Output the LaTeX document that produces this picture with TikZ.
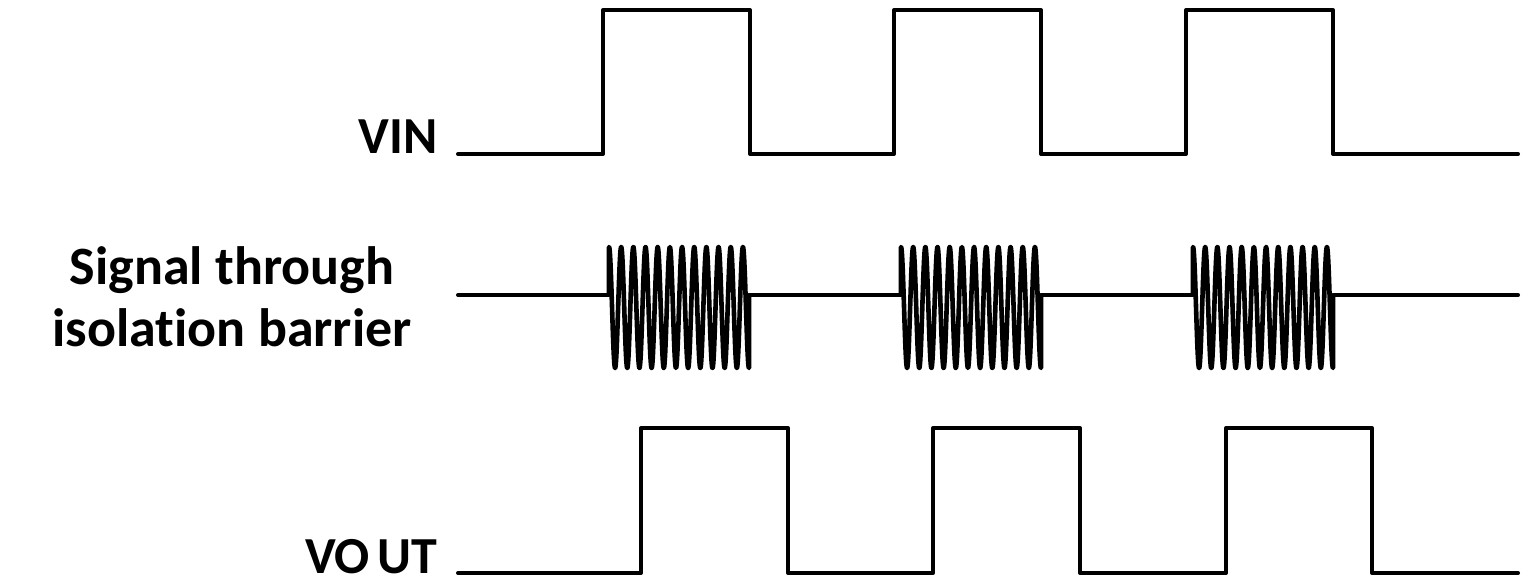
\documentclass[tikz,border=0pt]{standalone}
\usepackage{fontspec}
\setmainfont{Carlito}[Ligatures=NoCommon]
\begin{document}
\begin{tikzpicture}[x=0.5pt,y=-0.5pt,
  wave/.style={line width=2pt,line join=round,line cap=round},
  burst/.style={line width=2.3pt,line join=round},
  lbl/.style={font=\fontsize{26}{30}\selectfont\bfseries,inner sep=0pt},
  biglbl/.style={font=\fontsize{27}{31}\selectfont\bfseries,inner sep=0pt}]
\useasboundingbox (0,0) rectangle (1525,587);
% labels
\node[lbl,anchor=base east] (vin) at (438,154) {VIN};
\node[biglbl,align=center,anchor=base] (sig) at (232,347) {Signal through\\isolation barrier};
\node[lbl,anchor=base east] (vout) at (438,573) {VO\kern4pt UT};
% VIN
\draw[wave] (458,154) -- (603,154) -- (603,10) -- (750,10) -- (750,154)
  -- (894,154) -- (894,10) -- (1041,10) -- (1041,154)
  -- (1186,154) -- (1186,10) -- (1333,10) -- (1333,154) -- (1518,154);
% VOUT
\draw[wave] (458,573) -- (641,573) -- (641,428) -- (788,428) -- (788,573)
  -- (933,573) -- (933,428) -- (1080,428) -- (1080,573)
  -- (1226,573) -- (1226,428) -- (1372,428) -- (1372,573) -- (1518,573);
% signal baseline
\draw[wave] (458,295) -- (609,295);
\draw[wave] (749,295) -- (901,295);
\draw[wave] (1041,295) -- (1193,295);
\draw[wave] (1333,295) -- (1518,295);
% bursts
\foreach \s in {609,901,1193}{
  \draw[burst] (\s,295) -- plot[domain=0:11.5,samples=600,smooth]
    ({\s+\x*140/11.5},{307.5-60.5*cos(360*\x)}) -- ({\s+140},295);
}
\end{tikzpicture}
\end{document}
